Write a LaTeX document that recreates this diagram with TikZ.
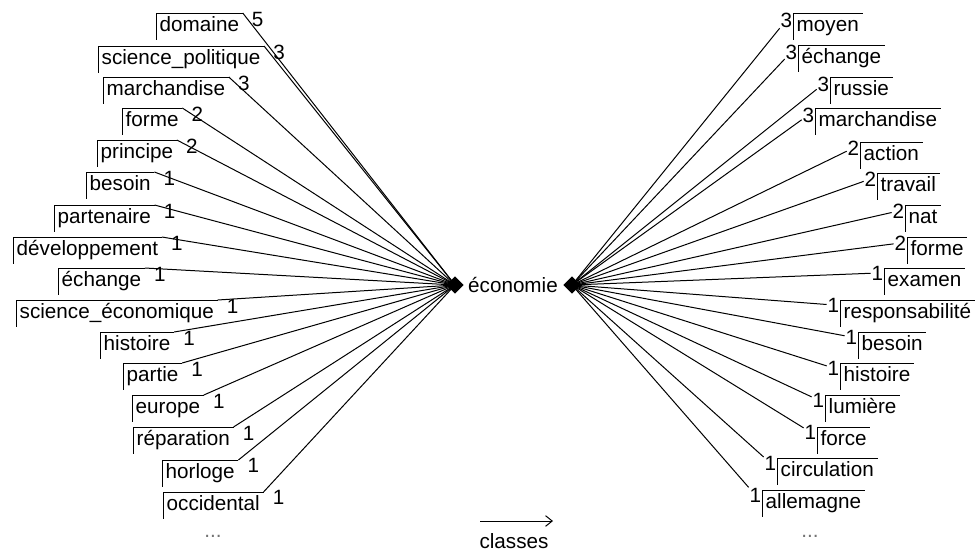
\documentclass[tikz,border=0pt]{standalone}
\usepackage{fontspec}
\setmainfont{Liberation Sans}
\usetikzlibrary{arrows.meta,shapes.geometric}
\newcommand{\wfont}{\fontsize{15.5}{18}\selectfont}
\tikzset{
  frame/.style   = {draw, line width=0.75pt, to path={|- (\tikztotarget)}},
  word/.style    = {font=\wfont, anchor=north west, inner xsep=2.6pt, inner ysep=3pt,
                    text height=10.5pt, text depth=3pt,
                    append after command={(\tikzlastnode.south west)
                      edge[frame] (\tikzlastnode.north east)}},
  count/.style   = {font=\wfont, inner sep=0.5pt},
  rcount/.style  = {count, anchor=east},
  link/.style    = {draw, line width=0.75pt},
  hub/.style     = {diamond, fill=black, inner sep=0pt, minimum width=13pt,
                    minimum height=13pt},
  more/.style    = {font=\wfont, text=black!55},
}
\begin{document}
\begin{tikzpicture}[x=0.75pt, y=-0.75pt]
  \useasboundingbox (0,0) rectangle (975,554);

  % ---- centre -----------------------------------------------------------
  \node[font=\wfont] (eco) at (513,285) {économie};
  \node[hub] (hubL) at (455,285) {};
  \node[hub] (hubR) at (572,285) {};

  % ---- left-hand words ----------------------------------------------------
  \node[word] (l1)  at (156,13)  {domaine};
  \node[word] (l2)  at (98,46)   {science\_politique};
  \node[word] (l3)  at (103,77)  {marchandise};
  \node[word] (l4)  at (122,108) {forme};
  \node[word] (l5)  at (97,140)  {principe};
  \node[word] (l6)  at (86,172)  {besoin};
  \node[word] (l7)  at (54,205)  {partenaire};
  \node[word] (l8)  at (13,237)  {développement};
  \node[word] (l9)  at (58,268)  {échange};
  \node[word] (l10) at (16,300)  {science\_économique};
  \node[word] (l11) at (100,332) {histoire};
  \node[word] (l12) at (123,363) {partie};
  \node[word] (l13) at (132,395) {europe};
  \node[word] (l14) at (133,427) {réparation};
  \node[word] (l15) at (162,460) {horloge};
  \node[word] (l16) at (163,492) {occidental};

  \node[count] (c1)  at ([shift={(15,6)}]l1.north east)  {5};
  \node[count] (c2)  at ([shift={(15,6)}]l2.north east)  {3};
  \node[count] (c3)  at ([shift={(15,6)}]l3.north east)  {3};
  \node[count] (c4)  at ([shift={(15,6)}]l4.north east)  {2};
  \node[count] (c5)  at ([shift={(15,6)}]l5.north east)  {2};
  \node[count] (c6)  at ([shift={(15,6)}]l6.north east)  {1};
  \node[count] (c7)  at ([shift={(15,6)}]l7.north east)  {1};
  \node[count] (c8)  at ([shift={(15,6)}]l8.north east)  {1};
  \node[count] (c9)  at ([shift={(15,6)}]l9.north east)  {1};
  \node[count] (c10) at ([shift={(15,6)}]l10.north east) {1};
  \node[count] (c11) at ([shift={(15,6)}]l11.north east) {1};
  \node[count] (c12) at ([shift={(15,6)}]l12.north east) {1};
  \node[count] (c13) at ([shift={(15,6)}]l13.north east) {1};
  \node[count] (c14) at ([shift={(15,6)}]l14.north east) {1};
  \node[count] (c15) at ([shift={(15,5)}]l15.north east) {1};
  \node[count] (c16) at ([shift={(15,5)}]l16.north east) {1};

  % ---- right-hand words ---------------------------------------------------
  \node[word] (r1)  at (793,13)  {moyen};
  \node[word] (r2)  at (798,45)  {échange};
  \node[word] (r3)  at (830,77)  {russie};
  \node[word] (r4)  at (815,108) {marchandise};
  \node[word] (r5)  at (860,142) {action};
  \node[word] (r6)  at (877,173) {travail};
  \node[word] (r7)  at (905,205) {nat};
  \node[word] (r8)  at (907,237) {forme};
  \node[word] (r9)  at (884,268) {examen};
  \node[word] (r10) at (840,300) {responsabilité};
  \node[word] (r11) at (858,332) {besoin};
  \node[word] (r12) at (840,363) {histoire};
  \node[word] (r13) at (825,395) {lumière};
  \node[word] (r14) at (817,427) {force};
  \node[word] (r15) at (777,458) {circulation};
  \node[word] (r16) at (762,490) {allemagne};

  \node[rcount] (d1)  at ([shift={(0,7)}]r1.north west)  {3};
  \node[rcount] (d2)  at ([shift={(0,7)}]r2.north west)  {3};
  \node[rcount] (d3)  at ([shift={(0,7)}]r3.north west)  {3};
  \node[rcount] (d4)  at ([shift={(0,7)}]r4.north west)  {3};
  \node[rcount] (d5)  at ([shift={(0,6)}]r5.north west)  {2};
  \node[rcount] (d6)  at ([shift={(0,6)}]r6.north west)  {2};
  \node[rcount] (d7)  at ([shift={(0,6)}]r7.north west)  {2};
  \node[rcount] (d8)  at ([shift={(0,6)}]r8.north west)  {2};
  \node[rcount] (d9)  at ([shift={(0,5)}]r9.north west)  {1};
  \node[rcount] (d10) at ([shift={(0,5)}]r10.north west) {1};
  \node[rcount] (d11) at ([shift={(0,5)}]r11.north west) {1};
  \node[rcount] (d12) at ([shift={(0,5)}]r12.north west) {1};
  \node[rcount] (d13) at ([shift={(0,5)}]r13.north west) {1};
  \node[rcount] (d14) at ([shift={(0,5)}]r14.north west) {1};
  \node[rcount] (d15) at ([shift={(0,5)}]r15.north west) {1};
  \node[rcount] (d16) at ([shift={(0,5)}]r16.north west) {1};

  % ---- connectors ---------------------------------------------------------
  \draw[link] (l1.north east)  -- (hubL.center);
  \draw[link] (l2.north east)  -- (hubL.center);
  \draw[link] (l3.north east)  -- (hubL.center);
  \draw[link] (l4.north east)  -- (hubL.center);
  \draw[link] (l5.north east)  -- (hubL.center);
  \draw[link] (l6.north east)  -- (hubL.center);
  \draw[link] (l7.north east)  -- (hubL.center);
  \draw[link] (l8.north east)  -- (hubL.center);
  \draw[link] (l9.north east)  -- (hubL.center);
  \draw[link] (l10.north east) -- (hubL.center);
  \draw[link] (l11.north east) -- (hubL.center);
  \draw[link] (l12.north east) -- (hubL.center);
  \draw[link] (l13.north east) -- (hubL.center);
  \draw[link] (l14.north east) -- (hubL.center);
  \draw[link] (l15.north east) -- (hubL.center);
  \draw[link] (l16.north east) -- (hubL.center);

  \draw[link] (hubR.center) -- (d1);
  \draw[link] (hubR.center) -- (d2);
  \draw[link] (hubR.center) -- (d3);
  \draw[link] (hubR.center) -- (d4);
  \draw[link] (hubR.center) -- (d5);
  \draw[link] (hubR.center) -- (d6);
  \draw[link] (hubR.center) -- (d7);
  \draw[link] (hubR.center) -- (d8);
  \draw[link] (hubR.center) -- (d9);
  \draw[link] (hubR.center) -- (d10);
  \draw[link] (hubR.center) -- (d11);
  \draw[link] (hubR.center) -- (d12);
  \draw[link] (hubR.center) -- (d13);
  \draw[link] (hubR.center) -- (d14);
  \draw[link] (hubR.center) -- (d15);
  \draw[link] (hubR.center) -- (d16);

  % ---- bottom -------------------------------------------------------------
  \node[more] (moreL) at (213,536) {...};
  \node[more] (moreR) at (810,536) {...};
  \coordinate (a0) at (480,521);
  \coordinate (a1) at (553,521);
  \draw[link, -{Straight Barb[length=5pt,width=8pt]}] (a0) -- (a1);
  \node[font=\wfont] (cls) at (514,541) {classes};

\end{tikzpicture}
\end{document}
